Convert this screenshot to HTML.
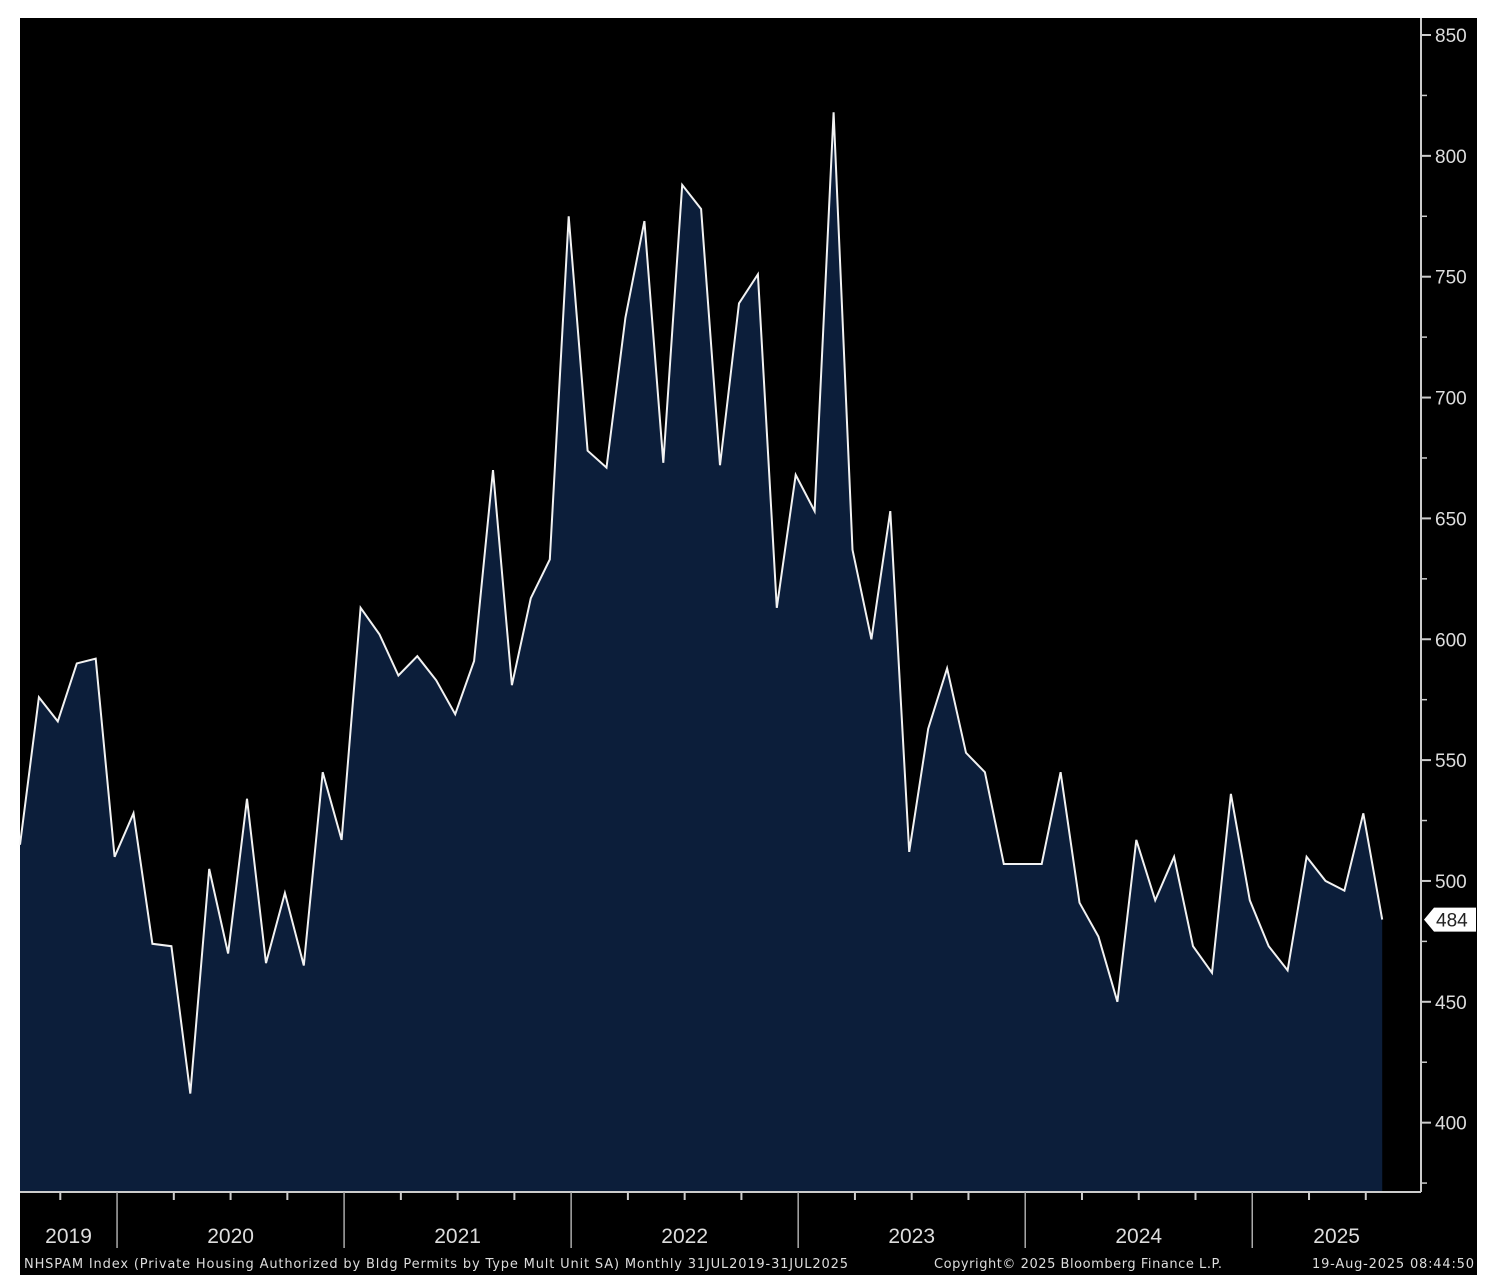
<!DOCTYPE html>
<html><head><meta charset="utf-8"><style>
body{margin:0;background:#fff;width:1502px;height:1288px;overflow:hidden;}
svg{display:block;}
</style></head><body>
<svg id="chart" width="1502" height="1288" xmlns="http://www.w3.org/2000/svg">
<rect x="20" y="18" width="1457" height="1257" fill="#000"/>
<g id="plot"></g>
</svg>
<script>
const values=[515,576,566,590,592,510,528,474,473,412,505,470,534,466,495,465,545,517,613,602,585,593,583,569,591,670,581,617,633,775,678,671,733,773,673,788,778,672,739,751,613,668,653,818,637,600,653,512,563,588,553,545,507,507,507,545,491,477,450,517,492,510,473,462,536,492,473,463,510,500,496,528,484];
const yTicks=[400,450,500,550,600,650,700,750,800,850];
const years=["2019","2020","2021","2022","2023","2024","2025"];
const lastLabel="484";
const NS="http://www.w3.org/2000/svg";
const g=document.getElementById('plot');
const x0=20,dx=18.92,yBase=1192;
const xs=i=>x0+i*dx;
const ys=v=>35+(850-v)*2.417;
function mk(t,a,txt){const e=document.createElementNS(NS,t);for(const k in a)e.setAttribute(k,a[k]);if(txt!==undefined)e.textContent=txt;g.appendChild(e);return e;}
let pts=values.map((v,i)=>xs(i).toFixed(1)+','+ys(v).toFixed(1));
const area=mk('polygon',{points:xs(0)+','+yBase+' '+pts.join(' ')+' '+xs(values.length-1)+','+yBase,fill:'#0c1e3a'});


const line=mk('polyline',{points:pts.join(' '),fill:'none',stroke:'#f2f2f2','stroke-width':2,'stroke-linejoin':'miter'});


// axes
const ax=mk('line',{x1:20,y1:yBase,x2:1421,y2:yBase,stroke:'#ccc','stroke-width':2});


const ay=mk('line',{x1:1421,y1:18,x2:1421,y2:yBase,stroke:'#ccc','stroke-width':2});


yTicks.forEach(v=>{const y=ys(v);
 mk('line',{x1:1421,y1:y,x2:1431,y2:y,stroke:'#ccc','stroke-width':2});
 const t=mk('text',{x:1435,y:y+7,fill:'#ddd','font-size':19,'font-family':'Liberation Sans, sans-serif'},String(v));
 
 
});
// minor tick between
for(let v=375;v<850;v+=50){const y=ys(v);mk('line',{x1:1421,y1:y,x2:1427,y2:y,stroke:'#ccc','stroke-width':1.5});}
// year dividers / quarter ticks
const jan0=5.13;
for(let q=-2;q<27;q++){const i=jan0+q*3;const x=xs(i);if(x<22||x>1420)continue;
 if(q%4===0){mk('line',{x1:x,y1:yBase,x2:x,y2:1248,stroke:'#aaa','stroke-width':1.5});}
 else mk('line',{x1:x,y1:yBase,x2:x,y2:1200,stroke:'#ccc','stroke-width':2});}
years.forEach((yr,k)=>{let a=xs(jan0+(k-1)*12),b=xs(jan0+k*12);a=Math.max(a,20);b=Math.min(b,1421);
 const t=mk('text',{x:(a+b)/2,y:1243,fill:'#ddd','font-size':21,'text-anchor':'middle','font-family':'Liberation Sans, sans-serif'},yr);
 
 
});
// last value label
const ly=ys(values[values.length-1]);
const lb=mk('polygon',{points:`1424,${ly} 1434,${ly-12} 1476,${ly-12} 1476,${ly+12} 1434,${ly+12}`,fill:'#fff'});


const lt=mk('text',{x:1436,y:ly+7,fill:'#222','font-size':19,'font-family':'Liberation Sans, sans-serif'},lastLabel);


// footer
const f1=mk('text',{x:24,y:1268,fill:'#ddd','font-size':13,'font-family':'DejaVu Sans, sans-serif',textLength:824},'NHSPAM Index (Private Housing Authorized by Bldg Permits by Type Mult Unit SA)  Monthly 31JUL2019-31JUL2025');


const f2=mk('text',{x:934,y:1268,fill:'#ddd','font-size':13,'font-family':'DejaVu Sans, sans-serif',textLength:288},'Copyright© 2025 Bloomberg Finance L.P.');


const f3=mk('text',{x:1312,y:1268,fill:'#ddd','font-size':13,'font-family':'DejaVu Sans, sans-serif',textLength:162},'19-Aug-2025 08:44:50');


</script>
</body></html>
